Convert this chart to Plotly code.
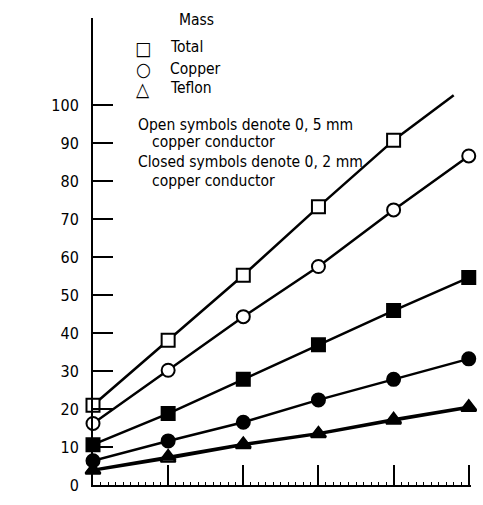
import plotly.graph_objects as go

x_vals = [0, 1, 2, 3, 4, 5]
total_open = [21.0, 38.1, 55.2, 73.2, 90.7]
total_open_ext_x = [4, 4.8]
total_open_ext_y = [90.7, 102.6]
copper_open = [16.2, 30.2, 44.3, 57.5, 72.4, 86.6]
total_closed = [10.6, 18.8, 27.8, 36.9, 45.9, 54.6]
copper_closed = [6.4, 11.6, 16.5, 22.4, 27.8, 33.2]
teflon_closed = [4.0, 7.5, 10.8, 13.6, 17.3, 20.6]
teflon_open = [3.8, 7.0, 10.5, 13.4, 17.0, 20.3]
y_ticks = [0, 10, 20, 30, 40, 50, 60, 70, 80, 90, 100]

FONT = "DejaVu Sans Condensed, Liberation Sans Narrow, DejaVu Sans, sans-serif"

fig = go.Figure()

def add(xs, ys, symbol, filled, size=13, mode="lines+markers", lw=2.5):
    fig.add_trace(go.Scatter(
        x=xs, y=ys, mode=mode, cliponaxis=False, showlegend=False,
        line=dict(color="black", width=lw),
        marker=dict(symbol=symbol, size=size,
                    color="black" if filled else "white",
                    line=dict(color="black", width=2)),
    ))

add(total_open_ext_x, total_open_ext_y, "square", False, mode="lines")
add(x_vals[:5], total_open, "square", False)
add(x_vals, copper_open, "circle", False)
add(x_vals, total_closed, "square", True)
add(x_vals, copper_closed, "circle", True)
add(x_vals, teflon_open, "triangle-up", False, lw=2.5)
add(x_vals, teflon_closed, "triangle-up", True, lw=2.5)

W, H = 483, 505
ML, MR, MT, MB = 93, 12, 18, 10
PW, PH = W - ML - MR, H - MT - MB

TS = 15.5
annots = [
    dict(x=196, y=20, text="Mass", xanchor="center", size=TS),
    dict(x=143, y=49, text="□", xanchor="center", size=19),
    dict(x=168, y=48, text="Total", xanchor="left", size=TS),
    dict(x=143, y=70, text="○", xanchor="center", size=19),
    dict(x=168, y=70, text="Copper", xanchor="left", size=TS),
    dict(x=143, y=91, text="△", xanchor="center", size=19),
    dict(x=168, y=90, text="Teflon", xanchor="left", size=TS),
    dict(x=136, y=127, text="Open symbols denote 0, 5 mm", xanchor="left", size=TS),
    dict(x=150, y=145, text="copper conductor", xanchor="left", size=TS),
    dict(x=136, y=165, text="Closed symbols denote 0, 2 mm", xanchor="left", size=TS),
    dict(x=150, y=185, text="copper conductor", xanchor="left", size=TS),
]
for a in annots:
    fig.add_annotation(x=(a["x"] - ML) / PW, y=(H - MB - a["y"]) / PH,
                       xref="paper", yref="paper",
                       text=a["text"], xanchor=a["xanchor"], yanchor="middle",
                       showarrow=False, font=dict(family=FONT, size=a["size"], color="black"))

fig.update_layout(
    width=W, height=H,
    margin=dict(l=ML, r=MR, t=MT, b=MB),
    plot_bgcolor="white", paper_bgcolor="white",
    font=dict(family=FONT, color="black"),
)
fig.update_xaxes(
    range=[0, 5.03], showgrid=False, zeroline=False,
    showline=True, linecolor="black", linewidth=2,
    ticks="inside", ticklen=20, tickwidth=2, tickcolor="black",
    tickvals=x_vals, showticklabels=False,
    minor=dict(ticks="inside", ticklen=3, tickwidth=1, tickcolor="black", dtick=0.1),
)
fig.update_yaxes(
    range=[0, 122.9], showgrid=False, zeroline=False,
    showline=True, linecolor="black", linewidth=2,
    ticks="inside", ticklen=20, tickwidth=1.5, tickcolor="black",
    tickvals=y_ticks, ticktext=[str(v) for v in y_ticks],
    tickfont=dict(family=FONT, size=16, color="black"),
    ticklabelstandoff=9,
)

fig.write_html("out.html")
